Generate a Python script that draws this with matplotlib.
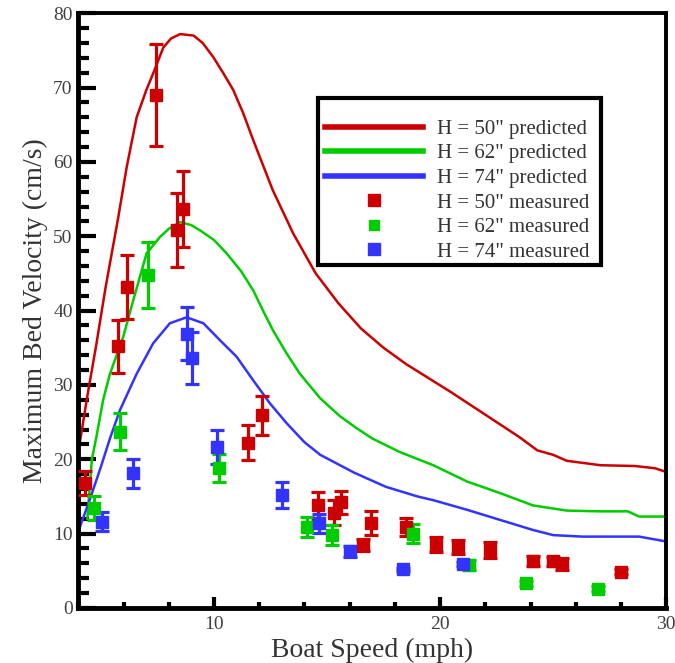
import matplotlib
matplotlib.use("Agg")
import matplotlib.pyplot as plt
from matplotlib.lines import Line2D
from matplotlib.patches import Rectangle
from matplotlib.ticker import MultipleLocator

plt.rcParams['font.family'] = ['Liberation Serif', 'DejaVu Serif']

# predicted curves (boat speed mph, max bed velocity cm/s)
x_pred_50 = [4.0, 4.4, 4.8, 5.2, 5.77, 6.14, 6.58, 7.0, 7.31, 7.76, 8.1, 8.5, 9.1, 9.5, 9.97,
             10.4, 10.85, 11.3, 11.74, 12.6, 13.5, 14.5, 15.5, 16.5, 17.5, 18.5, 19.5, 20.5,
             21.5, 22.5, 23.5, 24.3, 25.0, 25.6, 27.1, 28.6, 29.5, 30.0]
y_pred_50 = [21.0, 28.5, 35.5, 43.0, 52.6, 59.3, 66.0, 69.6, 71.9, 75.4, 76.6, 77.2, 77.0, 76.0, 74.1,
             72.0, 69.7, 66.5, 62.9, 56.2, 50.4, 45.0, 41.0, 37.6, 35.0, 32.8, 30.9, 29.0,
             27.0, 25.0, 23.0, 21.2, 20.6, 19.8, 19.2, 19.1, 18.8, 18.3]

x_pred_62 = [4.4, 4.5, 4.6, 4.8, 5.1, 5.4, 5.99, 6.43, 7.02, 7.61, 8.0, 8.5, 9.0, 9.38, 10.0,
             10.56, 11.2, 11.74, 12.2, 12.6, 13.2, 13.8, 14.7, 15.57, 16.3, 17.0, 18.2, 19.7,
             21.2, 22.7, 24.1, 25.6, 27.0, 28.3, 28.8, 30.0]
y_pred_62 = [12.0, 16.0, 20.0, 23.0, 28.0, 31.5, 36.5, 41.4, 47.7, 49.9, 51.0, 51.9, 51.5, 50.8, 49.5,
             47.7, 45.3, 42.7, 39.8, 37.4, 34.3, 31.5, 28.2, 25.8, 24.2, 22.8, 21.0, 19.2,
             17.0, 15.4, 13.8, 13.1, 13.0, 13.0, 12.3, 12.3]

x_pred_74 = [4.0, 4.5, 5.0, 5.4, 5.84, 6.58, 7.31, 8.05, 8.79, 9.53, 10.27, 11.0, 11.74, 12.48,
             13.2, 14.0, 14.7, 16.2, 17.6, 19.0, 19.7, 21.2, 22.7, 24.1, 25.0, 26.3, 28.8, 29.9, 30.0]
y_pred_74 = [10.3, 14.5, 19.0, 22.8, 26.6, 31.5, 35.6, 38.3, 39.1, 38.3, 36.0, 33.8, 30.6, 27.5,
             24.9, 22.3, 20.6, 18.2, 16.3, 15.0, 14.5, 13.2, 11.8, 10.5, 9.8, 9.6, 9.6, 9.0, 9.0]

# measured points with error bars
x_meas_50 = [4.3, 5.74, 6.14, 7.43, 8.35, 8.64, 11.52, 12.14, 14.6, 15.3, 15.6, 16.6, 16.95,
             18.5, 19.8, 20.8, 22.2, 24.1, 25.0, 25.4, 28.0]
y_meas_50 = [16.8, 35.2, 43.2, 69.0, 50.8, 53.7, 22.2, 25.9, 13.8, 12.8, 14.2, 8.5, 11.4,
             10.9, 8.5, 8.2, 7.8, 6.3, 6.3, 5.9, 4.9]
e_meas_50 = [1.6, 3.6, 4.3, 6.9, 5.0, 5.1, 2.35, 2.65, 1.8, 1.7, 1.5, 0.8, 1.6,
             1.2, 1.0, 1.0, 1.1, 0.7, 0.6, 0.8, 0.3]

x_meas_62 = [4.69, 5.84, 7.09, 10.23, 14.1, 15.2, 18.8, 21.3, 23.8, 27.0]
y_meas_62 = [13.4, 23.7, 44.8, 18.8, 10.9, 9.8, 10.0, 5.8, 3.3, 2.6]
e_meas_62 = [1.6, 2.5, 4.4, 1.9, 1.3, 1.3, 1.3, 0.7, 0.3, 0.3]

x_meas_74 = [5.04, 6.4, 8.79, 9.01, 10.12, 13.0, 14.65, 16.0, 18.35, 21.0]
y_meas_74 = [11.6, 18.1, 36.9, 33.6, 21.7, 15.2, 11.4, 7.6, 5.2, 5.9]
e_meas_74 = [1.3, 2.0, 3.6, 3.5, 2.3, 1.7, 1.3, 0.7, 0.2, 0.3]

red = '#cc0000'
green = '#00cc00'
blue = '#3333ff'

fig = plt.figure(figsize=(6.75, 6.63), dpi=100)
ax = fig.add_axes([0.116, 0.083, 0.871, 0.897])

ax.plot(x_pred_50, y_pred_50, color=red, lw=1.8, zorder=2)
ax.plot(x_pred_62, y_pred_62, color=green, lw=1.8, zorder=2)
ax.plot(x_pred_74, y_pred_74, color=blue, lw=1.8, zorder=2)

for xs, ys, es, c in [(x_meas_50, y_meas_50, e_meas_50, red),
                      (x_meas_62, y_meas_62, e_meas_62, green),
                      (x_meas_74, y_meas_74, e_meas_74, blue)]:
    ax.errorbar(xs, ys, yerr=es, fmt='s', color=c, ms=8, capsize=5,
                elinewidth=2.3, capthick=2.3, zorder=3)

ax.set_xlim(4, 30)
ax.set_ylim(0, 80)
ax.set_xticks([10, 20, 30])
ax.xaxis.set_minor_locator(MultipleLocator(2))
ax.yaxis.set_major_locator(MultipleLocator(10))
ax.yaxis.set_minor_locator(MultipleLocator(2))
ax.tick_params(axis='y', which='major', direction='in', length=13, width=3,
               labelsize=14, labelcolor='#404040', pad=4)
ax.tick_params(axis='y', which='minor', direction='in', length=8, width=3)
ax.tick_params(axis='x', which='major', direction='in', length=8, width=3,
               labelsize=14, labelcolor='#404040', pad=6)
ax.tick_params(axis='x', which='minor', direction='in', length=4, width=3)

ax.spines['left'].set_linewidth(3.5)
ax.spines['bottom'].set_linewidth(3.5)
ax.spines['top'].set_linewidth(2.8)
ax.spines['right'].set_linewidth(2.8)

ax.set_xlabel('Boat Speed (mph)', fontsize=20, color='#333333', labelpad=3)
ax.set_ylabel('Maximum Bed Velocity (cm/s)', fontsize=20, color='#333333', labelpad=4)

# legend box drawn separately so padding can differ from the entries
ax.add_patch(Rectangle((0.408, 0.576), 0.481, 0.281, transform=ax.transAxes,
                       facecolor='white', edgecolor='black', lw=3, zorder=4))

handles = [Line2D([], [], color=red, lw=4),
           Line2D([], [], color=green, lw=4),
           Line2D([], [], color=blue, lw=4),
           Line2D([], [], color=red, ls='none', marker='s', ms=8),
           Line2D([], [], color=green, ls='none', marker='s', ms=7.5),
           Line2D([], [], color=blue, ls='none', marker='s', ms=8)]
labels = ['H = 50" predicted', 'H = 62" predicted', 'H = 74" predicted',
          'H = 50" measured', 'H = 62" measured', 'H = 74" measured']
leg = ax.legend(handles, labels, loc='center left', bbox_to_anchor=(0.4197, 0.702),
                borderaxespad=0, borderpad=0, fontsize=15, handlelength=4.7,
                handletextpad=0.65, labelspacing=0.24, frameon=False)
leg.set_zorder(5)
for t in leg.get_texts():
    t.set_color('#333333')

fig.savefig('out.png', dpi=100)
